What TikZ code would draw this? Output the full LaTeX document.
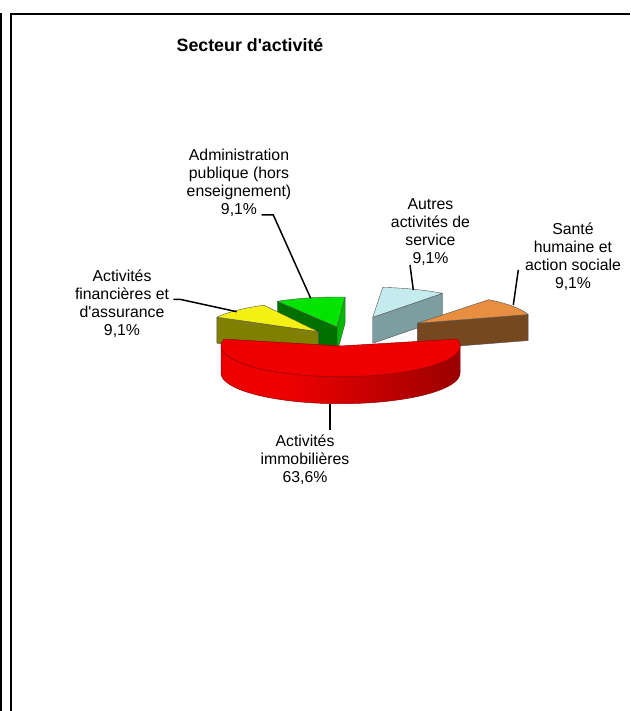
\documentclass[tikz,border=0pt]{standalone}
\usepackage{fontspec}
\setmainfont{Liberation Sans}
\definecolor{redtop}{RGB}{238,0,0}
\definecolor{redline}{RGB}{150,0,0}
\definecolor{rsideA}{RGB}{236,0,0}
\definecolor{rsideB}{RGB}{96,0,0}
\definecolor{yellowtop}{RGB}{245,240,20}
\definecolor{olive}{RGB}{128,128,0}
\definecolor{greentop}{RGB}{0,228,0}
\definecolor{greendark}{RGB}{0,112,0}
\definecolor{greenlight}{RGB}{0,185,0}
\definecolor{cyantop}{RGB}{196,236,238}
\definecolor{cyanside}{RGB}{125,158,160}
\definecolor{orangetop}{RGB}{232,142,64}
\definecolor{brownside}{RGB}{118,72,32}
\definecolor{outl}{RGB}{80,80,80}
\pgfdeclarehorizontalshading{redside}{100bp}{color(0bp)=(rsideA); color(40bp)=(rsideA); color(100bp)=(rsideB)}
\newcommand{\srx}{116}
\newcommand{\sry}{30}
\newcommand{\dep}{26}
% radial face: apex x, apex y, angle, colour
\newcommand{\radface}[4]{%
  \filldraw[fill=#4,draw=outl,line width=0.4pt,line join=round]
    (#1,#2) -- ({#1+\srx*cos(#3)},{#2-\sry*sin(#3)})
    -- ({#1+\srx*cos(#3)},{#2-\sry*sin(#3)+\dep}) -- (#1,#2+\dep) -- cycle;}
% top face: apex x, apex y, angle1, angle2, colour
\newcommand{\topface}[5]{%
  \filldraw[fill=#5,draw=outl,line width=0.4pt,line join=round]
    (#1,#2) -- plot[domain=#3:#4,samples=30] ({#1+\srx*cos(\x)},{#2-\sry*sin(\x)}) -- cycle;}
\tikzset{
  lbl/.style={align=center,font=\fontsize{15.8}{18}\selectfont,inner sep=0pt},
  leader/.style={line width=1.5pt,black,line join=miter},
  frame/.style={line width=2.2pt,black}
}
\begin{document}
\begin{tikzpicture}[x=1pt,y=-1pt]
\useasboundingbox (0,0) rectangle (630,711);
% frame
\draw[frame] (1.15,13.3) -- (1.15,711);
\draw[frame] (11,711) -- (11,14.3) -- (630,14.3);
% title
\node[font=\bfseries\fontsize{17.8}{20}\selectfont] (title) at (250,45) {Secteur d\textquotesingle activit\'e};
% cyan slice (Autres activites de service)
\radface{372.7}{317.3}{53}{cyanside}
\topface{372.7}{317.3}{53}{85}{cyantop}
% orange slice (Sante humaine)
\radface{417.3}{323.3}{17}{brownside}
\topface{417.3}{323.3}{17}{52}{orangetop}
% green slice (Administration publique)
\radface{337}{327}{86}{greenlight}
\radface{337}{327}{121}{greendark}
\topface{337}{327}{86}{121}{greentop}
% yellow slice (Activites financieres)
\radface{318.3}{331.7}{151}{olive}
\topface{318.3}{331.7}{118}{151}{yellowtop}
% red slice (Activites immobilieres)
\path[shading=redside]
  plot[domain=180:360,samples=60] ({340.5+119.5*cos(\x)},{346-30.7*sin(\x)})
  -- plot[domain=360:180,samples=60] ({340.5+119.5*cos(\x)},{373-30.7*sin(\x)}) -- cycle;
\draw[redline,line width=0.5pt]
  plot[domain=180:360,samples=60] ({340.5+119.5*cos(\x)},{346-30.7*sin(\x)})
  -- plot[domain=360:180,samples=60] ({340.5+119.5*cos(\x)},{373-30.7*sin(\x)}) -- cycle;
\filldraw[fill=redtop,draw=redline,line width=0.5pt,line join=round]
  (340.5,346) -- plot[domain=167:373,samples=80] ({340.5+119.5*cos(\x)},{346-30.7*sin(\x)}) -- cycle;
% labels
\node[lbl] (admin) at (239,182.5) {Administration\\publique (hors\\enseignement)\\9,1\%};
\node[lbl] (fin) at (122,304) {Activit\'es\\financi\`eres et\\d\textquotesingle assurance\\9,1\%};
\node[lbl] (autres) at (430.5,232.5) {Autres\\activit\'es de\\service\\9,1\%};
\node[lbl] (sante) at (573,256.5) {Sant\'e\\humaine et\\action sociale\\9,1\%};
\node[lbl] (immo) at (305,460) {Activit\'es\\immobili\`eres\\63,6\%};
% leader lines
\coordinate (adminA) at (261.7,215);
\coordinate (adminB) at (273.3,215);
\coordinate (adminC) at (310.7,298.3);
\coordinate (finA) at (173.3,299.3);
\coordinate (finB) at (180,299.3);
\coordinate (finC) at (236.7,311.7);
\coordinate (autresA) at (410,265);
\coordinate (autresC) at (413.3,290);
\coordinate (santeA) at (518.3,270);
\coordinate (santeC) at (513.3,305);
\coordinate (immoA) at (330,430);
\coordinate (immoC) at (330,404);
\draw[leader] (adminA) -- (adminB) -- (adminC);
\draw[leader] (finA) -- (finB) -- (finC);
\draw[leader] (autresA) -- (autresC);
\draw[leader] (santeA) -- (santeC);
\draw[leader] (immoA) -- (immoC);
\end{tikzpicture}
\end{document}
